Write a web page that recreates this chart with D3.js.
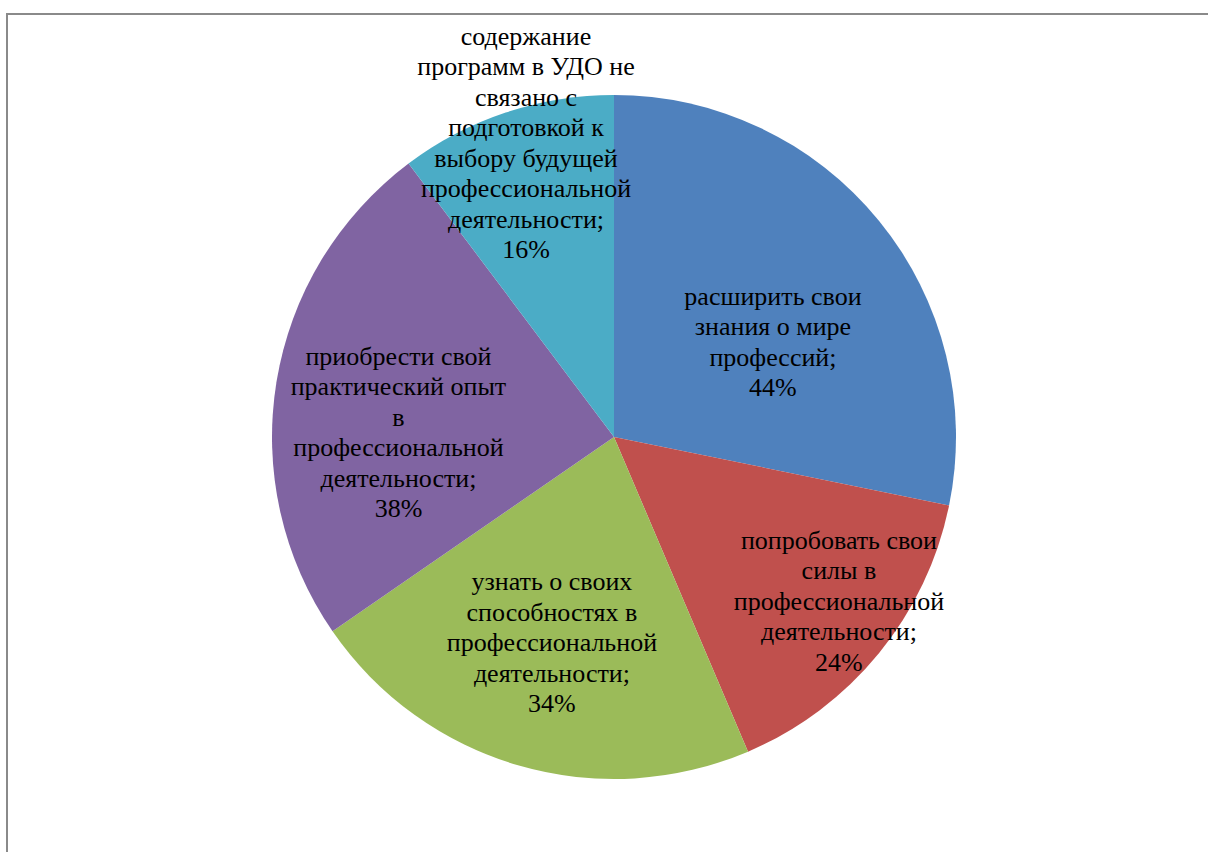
<!DOCTYPE html>
<html>
<head>
<meta charset="utf-8">
<script src="https://cdn.jsdelivr.net/npm/d3@7"></script>
<style>
  html, body { margin: 0; padding: 0; background: #fff; }
</style>
</head>
<body>
<div id="chart"></div>
<script>
// slice data, clockwise from 12 o'clock
const categories = [
    "расширить свои знания о мире профессий",
    "попробовать свои силы в профессиональной деятельности",
    "узнать о своих способностях в профессиональной деятельности",
    "приобрести свой практический опыт в профессиональной деятельности",
    "содержание программ в УДО не связано с подготовкой к выбору будущей профессиональной деятельности"
];
const values = [44, 24, 34, 38, 16];
const valueLabels = ["44%", "24%", "34%", "38%", "16%"];
// how each label wraps in the picture
const labelLines = [
    ["расширить свои", "знания о мире", "профессий;"],
    ["попробовать свои", "силы в", "профессиональной", "деятельности;"],
    ["узнать о своих", "способностях в", "профессиональной", "деятельности;"],
    ["приобрести свой", "практический опыт", "в", "профессиональной", "деятельности;"],
    ["содержание", "программ в УДО не", "связано с", "подготовкой к", "выбору будущей", "профессиональной", "деятельности;"]
];
const colors = ["#4F81BD", "#C0504D", "#9BBB59", "#8064A2", "#4BACC6"];

function setupPieChart({width, height, id}) {
    var dimensions = {
        width,
        height,
        cx: 614,
        cy: 437,
        radius: 342
    }

    const svg = d3.select('#' + id).append('svg')
        .attr('width', width)
        .attr('height', height)
        .style("display", "block");

    // chart frame (runs off the right and bottom edges)
    svg.append('rect')
        .attr('x', 7)
        .attr('y', 14)
        .attr('width', width + 20)
        .attr('height', height + 20)
        .attr('fill', 'none')
        .attr('stroke', '#8a8a8a')
        .attr('stroke-width', 2);

    const g = svg.append('g')
        .attr("transform", "translate(" + dimensions.cx + "," + dimensions.cy + ")");

    var pie = d3.pie()
        .sort(null)
        .value(d => d.value);

    const arc = d3.arc()
        .innerRadius(0)
        .outerRadius(dimensions.radius);

    const labelArc = d3.arc()
        .innerRadius(dimensions.radius * 0.6)
        .outerRadius(dimensions.radius * 0.6);

    var data = values.map((v, i) => ({
        name: categories[i],
        value: v,
        lines: labelLines[i].concat([valueLabels[i]]),
        color: colors[i]
    }));
    var data_ready = pie(data);

    g.selectAll('path')
        .data(data_ready)
        .enter()
        .append('path')
        .attr('d', arc)
        .attr('fill', d => d.data.color);

    // Excel-style label placement: nudges from the mid-radius centroid
    const nudge = [[0, 34], [66, 34], [-5, 8], [-13, 28], [-23, -100]];
    const lineH = 30.5;

    const labels = g.selectAll('.label')
        .data(data_ready)
        .enter()
        .append('text')
        .attr('class', 'label')
        .attr('text-anchor', 'middle')
        .attr('font-family', 'Liberation Serif')
        .attr('font-size', 26)
        .attr('fill', '#000')
        .attr('transform', (d, i) => {
            const c = labelArc.centroid(d);
            return "translate(" + (c[0] + nudge[i][0]) + "," + (c[1] + nudge[i][1]) + ")";
        });

    labels.each(function (d) {
        const n = d.data.lines.length;
        d3.select(this).selectAll('tspan')
            .data(d.data.lines)
            .enter()
            .append('tspan')
            .attr('x', 0)
            .attr('y', (t, j) => (j - (n - 1) / 2) * lineH)
            .attr('dy', '0.35em')
            .text(t => t);
    });

    return {}
}

setupPieChart({width: 1208, height: 852, id: 'chart'});
</script>
</body>
</html>
